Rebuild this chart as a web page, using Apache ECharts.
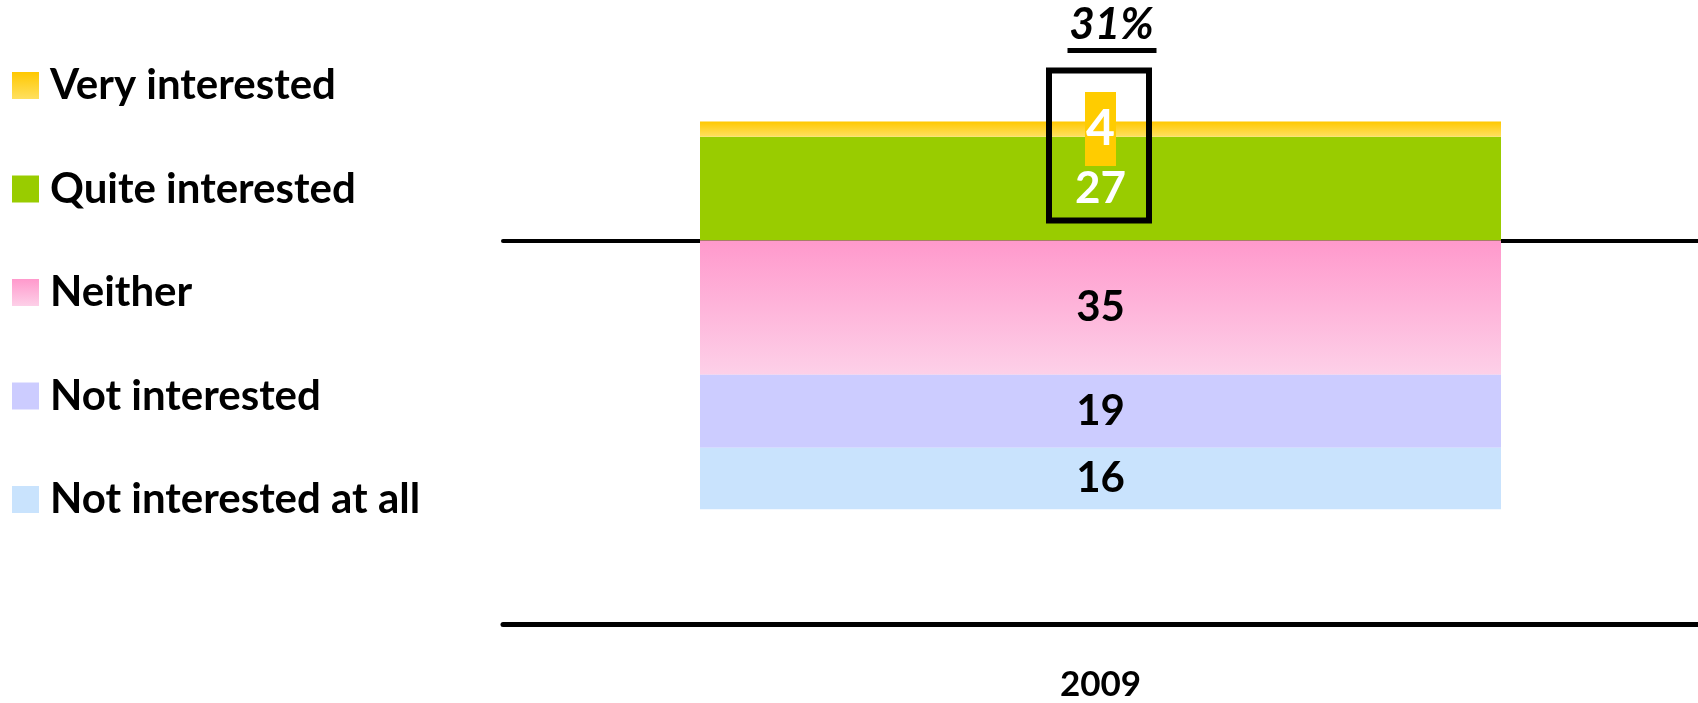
<!DOCTYPE html>
<html>
<head>
<meta charset="utf-8">
<script src="https://cdn.jsdelivr.net/npm/echarts@6/dist/echarts.min.js"></script>
<style>
  html, body { margin: 0; padding: 0; background: #fff; }
  #chart { width: 1698px; height: 703px; }
</style>
</head>
<body>
<div id="chart"></div>
<script>
  // data (percent)
  const years = ['2009'];
  const veryInterested = [4];
  const quiteInterested = [27];
  const neither = [35];
  const notInterested = [19];
  const notAtAll = [16];
  const netInterested = [31];

  const font = 'Lato';
  const myChart = echarts.init(document.getElementById('chart'));

  const grad = (c1, c2) => new echarts.graphic.LinearGradient(0, 0, 0, 1, [
    { offset: 0, color: c1 }, { offset: 1, color: c2 }
  ]);

  const labelStyle = (color, size) => ({
    show: true,
    position: 'inside',
    color: color,
    fontFamily: font,
    fontWeight: 'bold',
    fontSize: size,
    formatter: p => Math.abs(p.value)
  });

  const barBase = {
    type: 'bar',
    stack: 'total',
    barWidth: 801,
    xAxisIndex: 0,
    silent: true
  };

  const option = {
    animation: false,
    grid: { left: 503, right: 0, top: 10, bottom: 78.5 },
    legend: {
      orient: 'vertical',
      left: 12,
      top: 63.5,
      padding: 0,
      itemWidth: 27,
      itemHeight: 27,
      itemGap: 59.5,
      icon: 'rect',
      selectedMode: false,
      data: ['Very interested', 'Quite interested', 'Neither', 'Not interested', 'Not interested at all'],
      textStyle: {
        color: '#000', fontFamily: font, fontWeight: 'bold', fontSize: 42, lineHeight: 44,
        padding: [0, 0, 0, 6]
      }
    },
    xAxis: [
      {
        type: 'category',
        data: years,
        axisLine: { onZero: true, lineStyle: { color: '#000', width: 4 } },
        axisTick: { show: false },
        axisLabel: { show: false }
      },
      {
        type: 'category',
        data: years,
        position: 'bottom',
        axisLine: { onZero: false, lineStyle: { color: '#000', width: 5 } },
        axisTick: { show: false },
        axisLabel: { color: '#000', fontFamily: font, fontWeight: 'bold', fontSize: 35, margin: 43 }
      }
    ],
    yAxis: {
      type: 'value',
      min: -100,
      max: 60,
      show: false,
      splitLine: { show: false }
    },
    series: [
      Object.assign({}, barBase, {
        name: 'Quite interested',
        data: quiteInterested,
        itemStyle: { color: '#99CC00' },
        label: labelStyle('#fff', 44)
      }),
      Object.assign({}, barBase, {
        name: 'Very interested',
        data: veryInterested,
        itemStyle: { color: grad('#FFC800', '#FFE060') },
        label: Object.assign(labelStyle('#fff', 50), {
          backgroundColor: '#FFCC00',
          lineHeight: 50,
          padding: [12, 1, 12, 1]
        })
      }),
      Object.assign({}, barBase, {
        name: 'Neither',
        data: neither.map(v => -v),
        itemStyle: { color: grad('#FF99CC', '#FDD0E8') },
        label: labelStyle('#000', 42)
      }),
      Object.assign({}, barBase, {
        name: 'Not interested',
        data: notInterested.map(v => -v),
        itemStyle: { color: '#CCCCFF' },
        label: labelStyle('#000', 42)
      }),
      Object.assign({}, barBase, {
        name: 'Not interested at all',
        data: notAtAll.map(v => -v),
        itemStyle: { color: '#C9E3FD' },
        label: labelStyle('#000', 42)
      }),
      {
        // box round the positive part + net total above it
        type: 'custom',
        name: 'net',
        silent: true,
        z: 5,
        data: netInterested.map((v, i) => [i, v]),
        renderItem: (params, api) => {
          const top = api.coord([api.value(0), api.value(1)]);
          const zero = api.coord([api.value(0), 0]);
          const cx = top[0];
          return {
            type: 'group',
            children: [
              {
                type: 'rect',
                shape: { x: cx - 51.5, y: top[1] - 51, width: 100, height: zero[1] - 20 - (top[1] - 51) },
                style: { fill: 'none', stroke: '#000', lineWidth: 6 }
              },
              {
                type: 'text',
                style: {
                  text: api.value(1) + '%',
                  x: cx + 11,
                  y: top[1] - 75,
                  align: 'center',
                  verticalAlign: 'bottom',
                  fill: '#000',
                  fontFamily: font,
                  fontStyle: 'italic',
                  fontWeight: 'bold',
                  fontSize: 44
                }
              },
              {
                type: 'line',
                shape: { x1: cx - 33, y1: top[1] - 71, x2: cx + 56, y2: top[1] - 71 },
                style: { stroke: '#000', lineWidth: 5 }
              }
            ]
          };
        }
      }
    ]
  };

  myChart.setOption(option);
  window.addEventListener('resize', () => { myChart.resize() });
</script>
</body>
</html>
